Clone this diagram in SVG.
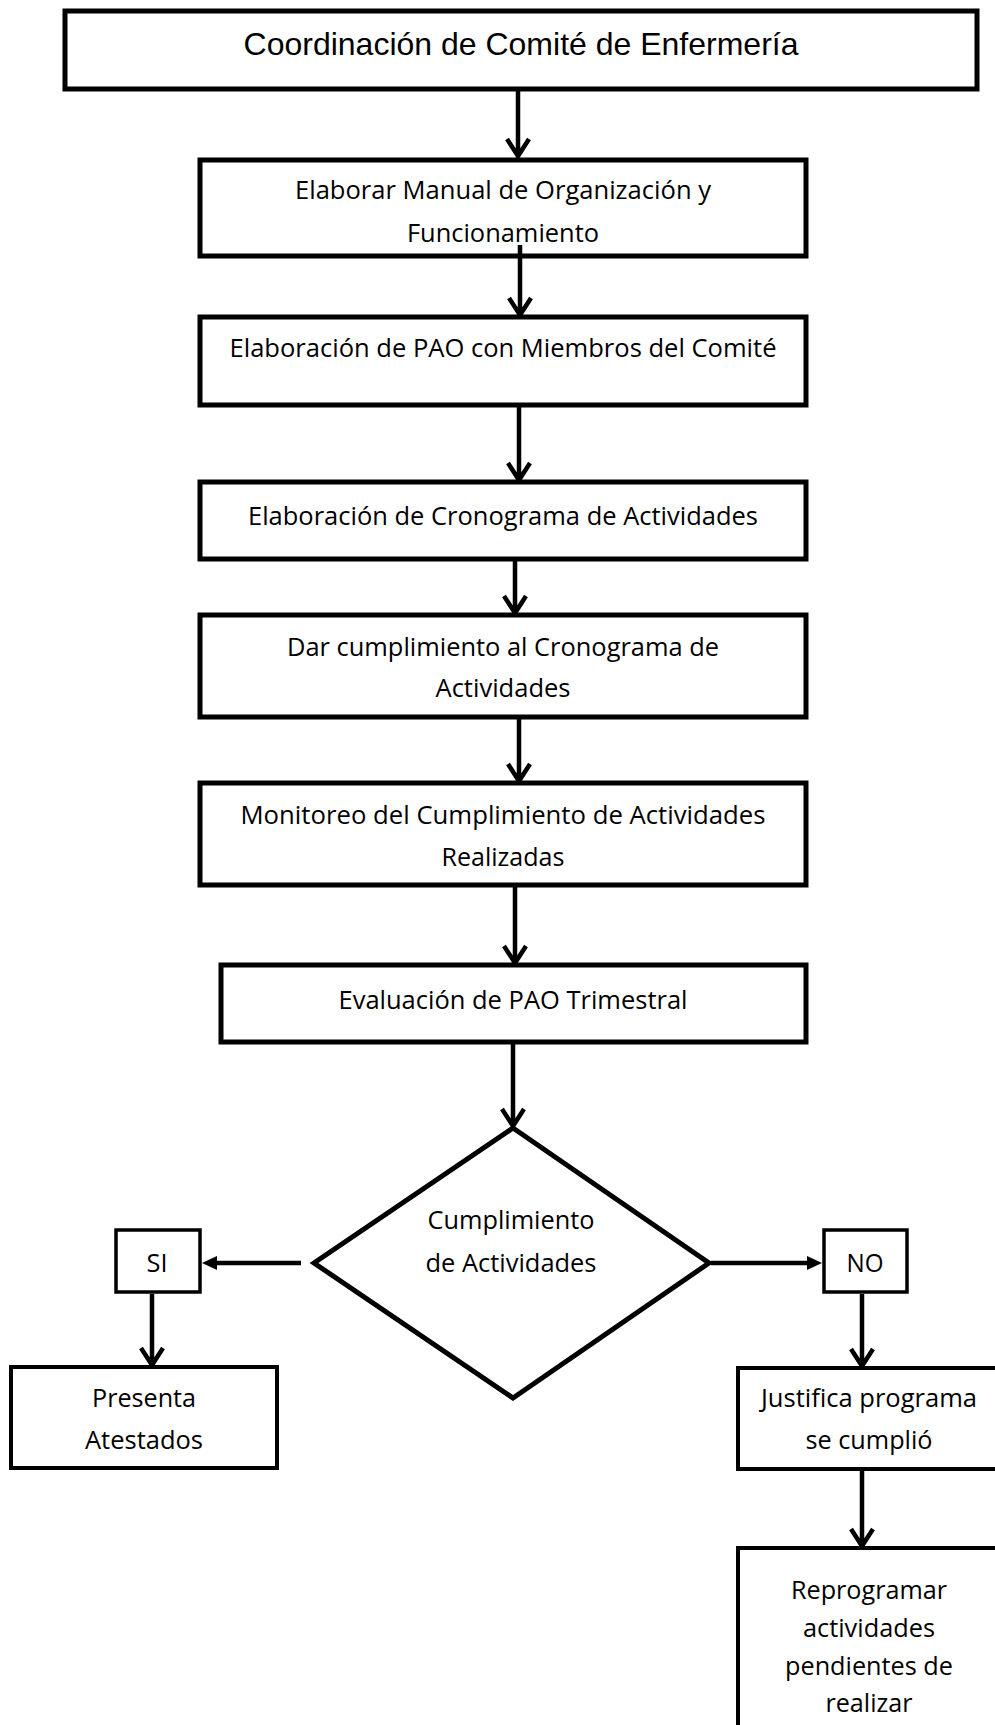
<svg xmlns="http://www.w3.org/2000/svg" width="995" height="1725" viewBox="0 0 995 1725">
<style>
.box{fill:#fff;stroke:#000;stroke-width:5}
.thin{fill:#fff;stroke:#000;stroke-width:3.5}
.mid{fill:#fff;stroke:#000;stroke-width:4}
.t{font-family:"Open Sans","Noto Sans",sans-serif;font-size:25px;fill:#000;text-anchor:middle}
.ta{font-family:"Liberation Sans",Arial,sans-serif;font-size:32px;fill:#000;text-anchor:middle}
.c{fill:none;stroke:#000;stroke-width:4.5}
.h{fill:#000;stroke:none}
</style>
<rect width="995" height="1725" fill="#fff"/>
<g id="n1">
<rect class="box" x="65" y="11" width="912" height="78"/>
<text class="ta" x="521" y="55">Coordinación de Comité de Enfermería</text>
</g>
<g id="n2">
<rect class="box" x="200" y="160" width="606" height="96"/>
<text class="t" x="503" y="199" textLength="416" lengthAdjust="spacingAndGlyphs">Elaborar Manual de Organización y</text>
<text class="t" x="503" y="242" textLength="192" lengthAdjust="spacingAndGlyphs">Funcionamiento</text>
</g>
<g id="n3">
<rect class="box" x="200" y="317" width="606" height="88"/>
<text class="t" x="503" y="357" textLength="547" lengthAdjust="spacingAndGlyphs">Elaboración de PAO con Miembros del Comité</text>
</g>
<g id="n4">
<rect class="box" x="200" y="482" width="606" height="77"/>
<text class="t" x="503" y="525" textLength="510" lengthAdjust="spacingAndGlyphs">Elaboración de Cronograma de Actividades</text>
</g>
<g id="n5">
<rect class="box" x="200" y="615" width="606" height="102"/>
<text class="t" x="503" y="656" textLength="432" lengthAdjust="spacingAndGlyphs">Dar cumplimiento al Cronograma de</text>
<text class="t" x="503" y="697" textLength="135" lengthAdjust="spacingAndGlyphs">Actividades</text>
</g>
<g id="n6">
<rect class="box" x="200" y="783" width="606" height="102"/>
<text class="t" x="503" y="824" textLength="525" lengthAdjust="spacingAndGlyphs">Monitoreo del Cumplimiento de Actividades</text>
<text class="t" x="503" y="866" textLength="123" lengthAdjust="spacingAndGlyphs">Realizadas</text>
</g>
<g id="n7">
<rect class="box" x="221" y="965" width="585" height="77"/>
<text class="t" x="513" y="1009" textLength="349" lengthAdjust="spacingAndGlyphs">Evaluación de PAO Trimestral</text>
</g>
<g id="decision">
<polygon class="box" points="513,1128 709,1263 513,1398 314,1263"/>
<text class="t" x="511" y="1229" textLength="167" lengthAdjust="spacingAndGlyphs">Cumplimiento</text>
<text class="t" x="511" y="1272" textLength="171" lengthAdjust="spacingAndGlyphs">de Actividades</text>
</g>
<g id="si">
<rect class="thin" x="116" y="1230" width="84" height="62"/>
<text class="t" x="157" y="1272" textLength="21" lengthAdjust="spacingAndGlyphs">SI</text>
</g>
<g id="no">
<rect class="thin" x="824" y="1230" width="83" height="62"/>
<text class="t" x="865" y="1272" textLength="37" lengthAdjust="spacingAndGlyphs">NO</text>
</g>
<g id="presenta">
<rect class="mid" x="11" y="1367" width="266" height="101"/>
<text class="t" x="144" y="1407" textLength="104" lengthAdjust="spacingAndGlyphs">Presenta</text>
<text class="t" x="144" y="1449" textLength="118" lengthAdjust="spacingAndGlyphs">Atestados</text>
</g>
<g id="justifica">
<rect class="mid" x="738" y="1368" width="270" height="101"/>
<text class="t" x="869" y="1407" textLength="216" lengthAdjust="spacingAndGlyphs">Justifica programa</text>
<text class="t" x="869" y="1449" textLength="127" lengthAdjust="spacingAndGlyphs">se cumplió</text>
</g>
<g id="reprogramar">
<rect class="mid" x="738" y="1548" width="270" height="190"/>
<text class="t" x="869" y="1599" textLength="156" lengthAdjust="spacingAndGlyphs">Reprogramar</text>
<text class="t" x="869" y="1637" textLength="132" lengthAdjust="spacingAndGlyphs">actividades</text>
<text class="t" x="869" y="1675" textLength="168" lengthAdjust="spacingAndGlyphs">pendientes de</text>
<text class="t" x="869" y="1712" textLength="87" lengthAdjust="spacingAndGlyphs">realizar</text>
</g>
<g id="connectors">
<path class="c" d="M518,91 V156 M507,139 L518,156 L529,139"/>
<path class="c" d="M520,245 V315 M509,298 L520,315 L531,298"/>
<path class="c" d="M519,407 V480 M508,463 L519,480 L530,463"/>
<path class="c" d="M515,561 V613 M504,596 L515,613 L526,596"/>
<path class="c" d="M519,719 V781 M508,764 L519,781 L530,764"/>
<path class="c" d="M515,887 V963 M504,946 L515,963 L526,946"/>
<path class="c" d="M513,1044 V1126 M502,1109 L513,1126 L524,1109"/>
<path class="c" d="M301,1263 H214"/>
<path class="h" d="M202,1263 L217,1256 L217,1270 Z"/>
<path class="c" d="M711,1263 H810"/>
<path class="h" d="M822,1263 L807,1256 L807,1270 Z"/>
<path class="c" d="M152,1294 V1365 M141,1348 L152,1365 L163,1348"/>
<path class="c" d="M862,1294 V1366 M851,1349 L862,1366 L873,1349"/>
<path class="c" d="M862,1471 V1546 M851,1529 L862,1546 L873,1529"/>
</g>
</svg>
